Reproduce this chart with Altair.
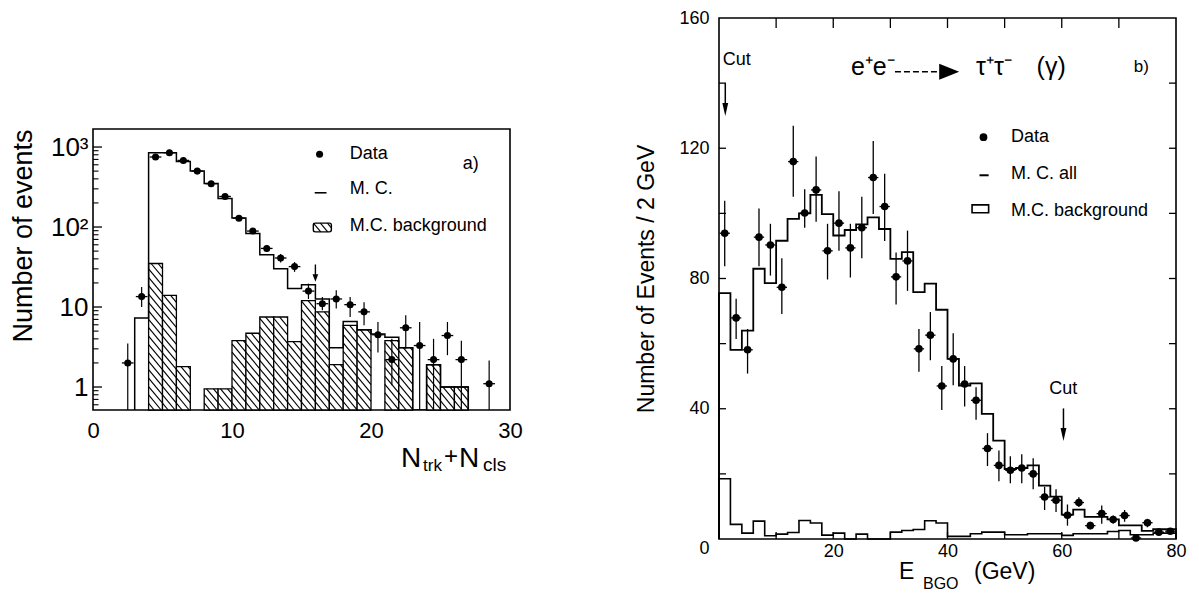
import math
import pandas as pd
import altair as alt

FONT = "Liberation Sans"

# ---------------- panel a) : N_trk + N_cls (log scale) ----------------
A_PTS_X = [2.5, 3.5, 4.5, 5.5, 6.5, 7.5, 8.5, 9.5, 10.5, 11.5, 12.5, 13.5, 14.5,
           15.5, 16.5, 17.5, 18.5, 19.5, 20.5, 21.5, 22.5, 23.5, 24.5, 25.5, 26.5, 28.5]
A_PTS_Y = [2.0, 13.5, 750, 850, 680, 500, 348, 241, 129, 89, 54, 41, 32,
           15.8, 11.0, 12.6, 10.7, 8.7, 4.5, 2.2, 5.5, 3.3, 2.2, 4.4, 2.2, 1.1]
A_PTS_LO = [0.4, 10.0, 722, 820, 655, 480, 333, 229, 121, 82, 49, 36, 27.5,
            12.6, 9.1, 9.6, 7.5, 5.9, 2.7, 1.05, 3.0, 0.4, 0.4, 2.5, 0.4, 0.4]
A_PTS_HI = [3.5, 17.8, 778, 880, 705, 520, 363, 253, 137, 96, 59, 46, 36.5,
            19.6, 13.3, 16.2, 13.3, 11.5, 6.5, 4.0, 7.9, 6.5, 4.0, 6.5, 3.8, 2.15]
A_BIN_LEFT = list(range(3, 27))
A_MC = [7.3, 850, 850, 660, 500, 350, 228, 130, 83, 45, 30, 17, 19, 12.6, 3.1, 6.6,
        5.2, 4.6, 4.2, 3.1, 0, 1.9, 1.0, 1.0]
A_BG = [0, 35, 14, 1.8, 0, 0.95, 0.95, 3.8, 4.7, 7.5, 7.5, 3.7, 12, 8.7, 1.9, 5.9,
        5.2, 0, 3.8, 3.1, 0, 1.9, 1.0, 1.0]
A_XTICKS = [0, 10, 20, 30]
A_YTICKS = [1, 10, 100, 1000]

# ---------------- panel b) : E_BGO ----------------
B_PTS_X = list(range(1, 80, 2))
B_PTS_Y = [93.9, 67.9, 58.1, 92.7, 90.3, 77.3, 115.9, 100.1, 107.2, 88.5, 97.0, 89.4,
           95.6, 111.0, 102.1, 80.5, 85.4, 58.4, 62.6, 47.0, 55.3, 47.6, 42.6, 27.8,
           22.6, 21.1, 21.8, 20.0, 12.9, 11.9, 7.3, 11.2, 4.1, 7.8, 6.0, 7.2, 0.3, 5.0,
           2.1, 2.4]
B_PTS_LO = [83.8, 61.4, 50.8, 83.8, 80.9, 69.1, 105.1, 95.6, 97.4, 79.7, 88.5, 80.3,
            86.2, 99.8, 91.5, 72.0, 76.2, 51.4, 54.9, 39.6, 47.2, 40.7, 36.6, 22.4,
            17.7, 17.1, 17.1, 15.3, 8.9, 8.3, 4.1, 9.8, 3.0, 4.7, 4.7, 5.3, 0.3, 3.6,
            2.1, 2.4]
B_PTS_HI = [103.9, 73.8, 64.5, 101.5, 96.8, 86.2, 126.9, 107.4, 117.5, 96.8, 106.8, 96.8,
            105.1, 122.2, 112.2, 88.0, 94.7, 64.5, 69.7, 53.1, 63.2, 53.1, 46.6, 32.5,
            27.2, 25.4, 26.0, 24.8, 16.0, 15.3, 10.6, 12.8, 5.3, 10.3, 7.2, 8.9, 0.3, 6.2,
            2.1, 2.4]
B_BIN_LEFT = list(range(0, 80, 2))
B_MC = [75.5, 58.1, 64.0, 83.0, 78.6, 91.6, 98.3, 100.0, 105.7, 99.8, 93.2, 94.9,
        96.6, 98.8, 95.2, 86.0, 88.1, 75.8, 78.4, 70.4, 55.3, 47.1, 47.8, 38.4,
        30.2, 21.5, 21.8, 22.6, 16.4, 13.0, 7.5, 9.0, 6.8, 6.8, 6.0, 4.2, 4.2, 2.5,
        3.0, 3.0]
B_BG = [18.5, 4.5, 1.8, 5.5, 1.0, 1.5, 2.0, 5.7, 4.9, 1.2, 1.8, 0, 1.5, 0, 0, 2.1,
        2.6, 2.9, 5.6, 4.9, 0.8, 0.8, 1.6, 2.1, 2.1, 1.3, 1.3, 1.6, 1.6, 1.6, 1.1,
        1.6, 1.6, 1.6, 2.3, 2.6, 1.3, 1.3, 1.8, 1.8]
B_XTICKS = [20, 40, 60, 80]
B_YTICKS = [0, 40, 80, 120, 160]

# ---------------- geometry ----------------
AW, AH = 417, 281
BW, BH = 457, 521
A_YMIN, A_YMAX = 0.516, 1680.0

xa = alt.Scale(domain=[0, 30], nice=False, zero=False)
ya = alt.Scale(type="log", domain=[A_YMIN, A_YMAX], nice=False)
xb = alt.Scale(domain=[0, 80], nice=False, zero=False)
yb = alt.Scale(domain=[0, 160], nice=False, zero=False)


def step_frame(lefts, vals, width, floor):
    xs, ys = [lefts[0]], [floor]
    for l, v in zip(lefts, vals):
        xs.append(l)
        ys.append(max(v, floor))
    xs += [lefts[-1] + width, lefts[-1] + width]
    ys += [max(vals[-1], floor), floor]
    return pd.DataFrame({"x": xs, "y": ys, "i": list(range(len(xs)))})


A_PX_X = AW / 30.0
A_PX_Y = AH / math.log10(A_YMAX / A_YMIN)


def hatch_segments(rects, step=8.4, slope=1.2):
    segs = []
    for (x0, x1, y0, y1) in rects:
        u0, u1 = x0 * A_PX_X, x1 * A_PX_X
        v0, v1 = math.log10(y0) * A_PX_Y, math.log10(y1) * A_PX_Y
        kmin = math.ceil((v0 + slope * u0) / step)
        kmax = math.floor((v1 + slope * u1) / step)
        for k in range(kmin, kmax + 1):
            c = k * step
            ua = max(u0, (c - v1) / slope)
            ub = min(u1, (c - v0) / slope)
            if ub - ua > 0.3:
                segs.append({"x": ua / A_PX_X, "y": 10 ** ((c - slope * ua) / A_PX_Y),
                             "x2": ub / A_PX_X, "y2": 10 ** ((c - slope * ub) / A_PX_Y)})
    return pd.DataFrame(segs)


def px_text(txt, px, py, fs, align="left", baseline="alphabetic"):
    return alt.Chart(pd.DataFrame({"t": [txt]})).mark_text(
        fontSize=fs, align=align, baseline=baseline, font=FONT, color="black"
    ).encode(text="t:N", x=alt.value(px), y=alt.value(py))


def data_texts(rows, xs, ys):
    df = pd.DataFrame(rows, columns=["x", "y", "t", "fs"])
    return alt.Chart(df).mark_text(align="left", baseline="middle", font=FONT, color="black").encode(
        x=alt.X("x:Q", scale=xs), y=alt.Y("y:Q", scale=ys),
        text="t:N", size=alt.Size("fs:Q", scale=None))


# ================= panel a =================
df_a = pd.DataFrame({"x": A_PTS_X, "y": A_PTS_Y, "lo": A_PTS_LO, "hi": A_PTS_HI})
df_a["xl"] = df_a["x"] - 0.42
df_a["xr"] = df_a["x"] + 0.42

bg_rects = [(l, l + 1, A_YMIN, v) for l, v in zip(A_BIN_LEFT, A_BG) if v > 0]
df_a_bg = pd.DataFrame(bg_rects, columns=["x0", "x1", "y0", "y1"])
leg_rect = (15.85, 17.15, 87.0, 112.0)
df_hatch = hatch_segments(bg_rects + [leg_rect])
df_leg_rect = pd.DataFrame([leg_rect], columns=["x0", "x1", "y0", "y1"])

# invisible layer carrying the axes (first layer, explicit settings win when merged)
a_axes = alt.Chart(df_a).mark_point(opacity=0).encode(
    x=alt.X("x:Q", scale=xa, title=None, axis=alt.Axis(
        values=A_XTICKS, title=None, labelFont=FONT, labelFontSize=22, labelPadding=10,
        labelFlush=False, ticks=False, domain=False, grid=False, labelColor="black")),
    y=alt.Y("y:Q", scale=ya, title="Number of events", axis=alt.Axis(
        values=A_YTICKS, title="Number of events", titleFont=FONT, titleFontSize=27,
        titleFontWeight="normal", titlePadding=13, titleAnchor="end", titleColor="black",
        labelExpr="datum.value == 1000 ? '10³' : datum.value == 100 ? '10²' : datum.value == 10 ? '10' : '1'",
        labelFont=FONT, labelFontSize=26, labelPadding=5, ticks=False, domain=False,
        grid=False, labelColor="black")))
a_bg = alt.Chart(df_a_bg).mark_rect(fill="white", stroke="black", strokeWidth=1.3).encode(
    x=alt.X("x0:Q", scale=xa), x2="x1:Q",
    y=alt.Y("y0:Q", scale=ya), y2="y1:Q")
a_legrect = alt.Chart(df_leg_rect).mark_rect(fill="white", stroke="black", strokeWidth=1.4,
                                               cornerRadius=2).encode(
    x=alt.X("x0:Q", scale=xa), x2="x1:Q",
    y=alt.Y("y0:Q", scale=ya), y2="y1:Q")
a_hatch = alt.Chart(df_hatch).mark_rule(color="black", strokeWidth=1.15).encode(
    x=alt.X("x:Q", scale=xa), x2="x2:Q",
    y=alt.Y("y:Q", scale=ya), y2="y2:Q")
a_mc = alt.Chart(step_frame(A_BIN_LEFT, A_MC, 1, A_YMIN)).mark_line(
    interpolate="step-after", color="black", strokeWidth=1.5, clip=True).encode(
    x=alt.X("x:Q", scale=xa), y=alt.Y("y:Q", scale=ya),
    order=alt.Order("i:Q"))
a_ev = alt.Chart(df_a).mark_rule(color="black", strokeWidth=1.2, clip=True).encode(
    x=alt.X("x:Q", scale=xa), y=alt.Y("lo:Q", scale=ya), y2="hi:Q")
a_eh = alt.Chart(df_a).mark_rule(color="black", strokeWidth=1.3, clip=True).encode(
    x=alt.X("xl:Q", scale=xa), x2="xr:Q", y=alt.Y("y:Q", scale=ya))
a_pts = alt.Chart(df_a).mark_point(filled=True, shape="circle", size=50, color="black",
                                   opacity=1, clip=True).encode(
    x=alt.X("x:Q", scale=xa), y=alt.Y("y:Q", scale=ya))

A_MINOR = [m * 10 ** e for e in range(-1, 3) for m in range(2, 10)
           if A_YMIN <= m * 10 ** e <= A_YMAX]
a_tmaj = alt.Chart(pd.DataFrame({"v": A_YTICKS})).mark_rule(color="black", strokeWidth=1.3).encode(
    y=alt.Y("v:Q", scale=ya), x=alt.value(0), x2=alt.value(9))
a_tmin = alt.Chart(pd.DataFrame({"v": A_MINOR})).mark_rule(color="black", strokeWidth=1.1).encode(
    y=alt.Y("v:Q", scale=ya), x=alt.value(0), x2=alt.value(5.5))

a_legdot = alt.Chart(pd.DataFrame({"x": [16.3], "y": [811]})).mark_point(
    filled=True, shape="circle", size=50, color="black", opacity=1).encode(
    x=alt.X("x:Q", scale=xa), y=alt.Y("y:Q", scale=ya))
a_legdash = alt.Chart(pd.DataFrame({"x": [15.95], "x2": [16.8], "y": [268]})).mark_rule(
    color="black", strokeWidth=1.6).encode(
    x=alt.X("x:Q", scale=xa), x2="x2:Q", y=alt.Y("y:Q", scale=ya))
a_texts = data_texts([
    (18.47, 811, "Data", 18),
    (18.47, 302, "M. C.", 18),
    (18.47, 104, "M.C. background", 18),
    (26.6, 617, "a)", 18),
], xa, ya)
a_arrow = alt.Chart(pd.DataFrame({"x": [16.0], "y": [34.0], "y2": [23.5]})).mark_rule(
    color="black", strokeWidth=1.4).encode(
    x=alt.X("x:Q", scale=xa), y=alt.Y("y:Q", scale=ya), y2="y2:Q")
a_head = alt.Chart(pd.DataFrame({"x": [16.0], "y": [23.0]})).mark_point(
    shape="M-0.6,-0.8L0.6,-0.8L0,0.8Z", filled=True, size=90, color="black", opacity=1).encode(
    x=alt.X("x:Q", scale=xa), y=alt.Y("y:Q", scale=ya))

a_xt = [
    px_text("N", 308, 338, 28),
    px_text("trk", 330, 342, 17),
    px_text("+", 351, 335, 24),
    px_text("N", 366, 338, 28),
    px_text("cls", 390, 342, 19),
]

left_panel = alt.layer(a_axes, a_bg, a_legrect, a_hatch, a_mc, a_ev, a_eh, a_pts, a_tmaj, a_tmin,
                       a_legdot, a_legdash, a_texts, a_arrow, a_head, *a_xt).properties(
    width=AW, height=AH)

spacer = alt.Chart(pd.DataFrame({"a": [0]})).mark_point(opacity=0).encode(
    x=alt.value(0), y=alt.value(0)).properties(
    width=AW, height=109, view=alt.ViewBackground(stroke="transparent"))

left = alt.vconcat(spacer, left_panel, spacing=0)

# ================= panel b =================
df_b = pd.DataFrame({"x": B_PTS_X, "y": B_PTS_Y, "lo": B_PTS_LO, "hi": B_PTS_HI})
df_b["xl"] = df_b["x"] - 0.9
df_b["xr"] = df_b["x"] + 0.9

b_axes = alt.Chart(df_b).mark_point(opacity=0).encode(
    x=alt.X("x:Q", scale=xb, title=None, axis=alt.Axis(
        values=B_XTICKS, title=None, labelFont=FONT, labelFontSize=18, labelPadding=3,
        labelFlush=False, ticks=False, domain=False, grid=False, labelColor="black")),
    y=alt.Y("y:Q", scale=yb, title="Number of Events / 2 GeV", axis=alt.Axis(
        values=B_YTICKS, title="Number of Events / 2 GeV", titleFont=FONT, titleFontSize=23,
        titleFontWeight="normal", titlePadding=20, titleColor="black",
        labelFont=FONT, labelFontSize=18, labelPadding=10, ticks=False, domain=False,
        grid=False, labelColor="black",
        labelBaseline={"condition": {"test": "datum.value === 0", "value": "top"},
                       "value": "middle"})))
b_mc = alt.Chart(step_frame(B_BIN_LEFT, B_MC, 2, 0)).mark_line(
    interpolate="step-after", color="black", strokeWidth=1.8).encode(
    x=alt.X("x:Q", scale=xb), y=alt.Y("y:Q", scale=yb),
    order=alt.Order("i:Q"))
b_bg = alt.Chart(step_frame(B_BIN_LEFT, B_BG, 2, 0)).mark_line(
    interpolate="step-after", color="black", strokeWidth=1.6).encode(
    x=alt.X("x:Q", scale=xb), y=alt.Y("y:Q", scale=yb),
    order=alt.Order("i:Q"))
b_ev = alt.Chart(df_b).mark_rule(color="black", strokeWidth=1.3).encode(
    x=alt.X("x:Q", scale=xb), y=alt.Y("lo:Q", scale=yb), y2="hi:Q")
b_eh = alt.Chart(df_b).mark_rule(color="black", strokeWidth=1.3).encode(
    x=alt.X("xl:Q", scale=xb), x2="xr:Q", y=alt.Y("y:Q", scale=yb))
b_pts = alt.Chart(df_b).mark_point(filled=True, shape="circle", size=58, color="black",
                                   opacity=1).encode(
    x=alt.X("x:Q", scale=xb), y=alt.Y("y:Q", scale=yb))

B_YT = [20, 40, 60, 80, 100, 120, 140]
B_XT = [10, 20, 30, 40, 50, 60, 70]
b_tl = alt.Chart(pd.DataFrame({"v": B_YT})).mark_rule(color="black", strokeWidth=1.3).encode(
    y=alt.Y("v:Q", scale=yb), x=alt.value(0), x2=alt.value(7))
b_tr = alt.Chart(pd.DataFrame({"v": B_YT})).mark_rule(color="black", strokeWidth=1.3).encode(
    y=alt.Y("v:Q", scale=yb), x=alt.value(BW - 7), x2=alt.value(BW))
b_tt = alt.Chart(pd.DataFrame({"v": B_XT})).mark_rule(color="black", strokeWidth=1.3).encode(
    x=alt.X("v:Q", scale=xb), y=alt.value(0), y2=alt.value(10))
b_tb = alt.Chart(pd.DataFrame({"v": B_XT})).mark_rule(color="black", strokeWidth=1.3).encode(
    x=alt.X("v:Q", scale=xb), y=alt.value(BH - 7), y2=alt.value(BH))

b_legdot = alt.Chart(pd.DataFrame({"x": [46.3], "y": [123.4]})).mark_point(
    filled=True, shape="circle", size=60, color="black", opacity=1).encode(
    x=alt.X("x:Q", scale=xb), y=alt.Y("y:Q", scale=yb))
b_legdash = alt.Chart(pd.DataFrame({"x": [45.6], "x2": [47.2], "y": [111.7]})).mark_rule(
    color="black", strokeWidth=2).encode(
    x=alt.X("x:Q", scale=xb), x2="x2:Q", y=alt.Y("y:Q", scale=yb))
b_legrect = alt.Chart(pd.DataFrame({"x": [44.3], "x2": [47.2], "y": [100.2], "y2": [102.6]})).mark_rect(
    fill="white", stroke="black", strokeWidth=1.6).encode(
    x=alt.X("x:Q", scale=xb), x2="x2:Q", y=alt.Y("y:Q", scale=yb), y2="y2:Q")
b_texts = data_texts([
    (0.64, 147.0, "Cut", 18),
    (57.8, 46.0, "Cut", 18),
    (23.1, 145.0, "e⁺e⁻", 25),
    (45.0, 145.0, "τ⁺τ⁻", 25),
    (55.6, 145.0, "(γ)", 25),
    (72.6, 145.0, "b)", 17),
    (51.1, 123.5, "Data", 18),
    (51.1, 112.2, "M. C. all", 18),
    (51.1, 100.6, "M.C. background", 18),
], xb, yb)
df_arrows = pd.DataFrame({"x": [1.1, 60.3], "y": [140.0, 40.1], "y2": [132.0, 32.0]})
b_arrows = alt.Chart(df_arrows).mark_rule(color="black", strokeWidth=1.5).encode(
    x=alt.X("x:Q", scale=xb), y=alt.Y("y:Q", scale=yb), y2="y2:Q")
b_heads = alt.Chart(pd.DataFrame({"x": [1.1, 60.3], "y": [131.9, 32.1]})).mark_point(
    shape="M-0.45,-1L0.45,-1L0,1Z", filled=True, size=169, color="black", opacity=1).encode(
    x=alt.X("x:Q", scale=xb), y=alt.Y("y:Q", scale=yb))
b_tarrow = alt.Chart(pd.DataFrame({"x": [30.8], "x2": [39.0], "y": [143.5]})).mark_rule(
    color="black", strokeWidth=1.5, strokeDash=[6, 3]).encode(
    x=alt.X("x:Q", scale=xb), x2="x2:Q", y=alt.Y("y:Q", scale=yb))
b_thead = alt.Chart(pd.DataFrame({"x": [40.3], "y": [143.5]})).mark_point(
    shape="M-1,-0.8L1,0L-1,0.8Z", filled=True, size=400, color="black", opacity=1).encode(
    x=alt.X("x:Q", scale=xb), y=alt.Y("y:Q", scale=yb))

b_xt = [
    px_text("E", 180, BH + 40, 23),
    px_text("BGO", 204, BH + 50, 16),
    px_text("(GeV)", 255, BH + 40, 23),
]

right = alt.layer(b_axes, b_mc, b_bg, b_ev, b_eh, b_pts, b_tl, b_tr, b_tt, b_tb,
                  b_legdot, b_legdash, b_legrect, b_texts, b_arrows, b_heads,
                  b_tarrow, b_thead, *b_xt).properties(width=BW, height=BH)

chart = alt.hconcat(left, right, spacing=111).properties(
    padding=0, background="white"
).configure(font=FONT).configure_view(stroke="black", strokeWidth=1.6)

chart.save("out.html", embed_options={"renderer": "svg", "actions": False})
